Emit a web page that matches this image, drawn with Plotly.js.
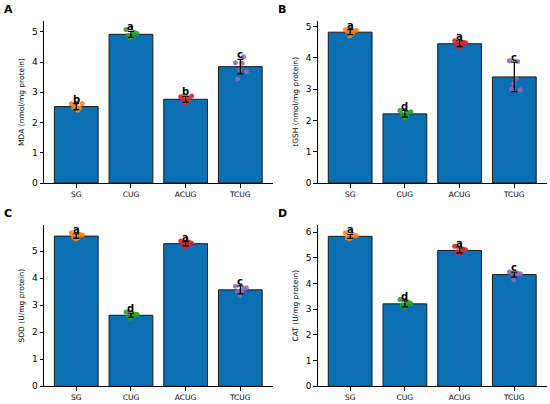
<!DOCTYPE html>
<html><head><meta charset="utf-8">
<script src="https://cdn.plot.ly/plotly-3.0.1.min.js"></script>
<style>html,body{margin:0;padding:0;background:#fff}#plot{width:550px;height:404px}</style>
</head><body><div id="plot"></div>
<script>
const categories = ["SG", "CUG", "ACUG", "TCUG"];
const pointColors = ["#ff7f0e", "#2ca02c", "#d62728", "#9467bd"];
const jitter = [-0.09, 0.06, 0.03, -0.01, 0.11, -0.05];

// Panel A: MDA
const mdaMeans = [2.53, 4.92, 2.77, 3.85];
const mdaErr = [0.1, 0.1, 0.1, 0.24];
const mdaPoints = [
  [2.62, 2.48, 2.41, 2.55, 2.63, 2.50],
  [5.08, 4.98, 4.85, 4.80, 4.95, 4.88],
  [2.85, 2.80, 2.70, 2.62, 2.88, 2.77],
  [3.98, 4.18, 3.96, 3.74, 3.68, 3.44]
];
const mdaLetters = ["b", "a", "b", "c"];

// Panel B: tGSH
const gshMeans = [4.82, 2.21, 4.45, 3.39];
const gshErr = [0.08, 0.1, 0.09, 0.47];
const gshPoints = [
  [4.90, 4.85, 4.75, 4.70, 4.88, 4.83],
  [2.32, 2.25, 2.12, 2.08, 2.28, 2.20],
  [4.55, 4.50, 4.38, 4.32, 4.48, 4.45],
  [3.91, 3.88, 3.32, 3.17, 2.98, 3.00]
];
const gshLetters = ["a", "d", "a", "c"];

// Panel C: SOD
const sodMeans = [5.56, 2.63, 5.28, 3.57];
const sodErr = [0.08, 0.08, 0.08, 0.15];
const sodPoints = [
  [5.68, 5.62, 5.50, 5.45, 5.60, 5.52],
  [2.75, 2.68, 2.58, 2.52, 2.66, 2.60],
  [5.38, 5.34, 5.22, 5.15, 5.30, 5.28],
  [3.70, 3.62, 3.55, 3.36, 3.65, 3.50]
];
const sodLetters = ["a", "d", "a", "c"];

// Panel D: CAT
const catMeans = [5.84, 3.21, 5.29, 4.35];
const catErr = [0.08, 0.12, 0.1, 0.1];
const catPoints = [
  [5.98, 5.90, 5.80, 5.75, 5.86, 5.78],
  [3.38, 3.28, 3.15, 3.05, 3.22, 3.18],
  [5.45, 5.35, 5.22, 5.18, 5.32, 5.24],
  [4.45, 4.40, 4.32, 4.15, 4.38, 4.40]
];
const catLetters = ["a", "d", "a", "c"];

const panels = [
  {label: "A", ytitle: "MDA (nmol/mg protein)", means: mdaMeans, err: mdaErr, pts: mdaPoints, letters: mdaLetters, yr: 5.36, dtick: 1, xd: [0.08, 0.4956], yd: [0.547, 0.948]},
  {label: "B", ytitle: "tGSH (nmol/mg protein)", means: gshMeans, err: gshErr, pts: gshPoints, letters: gshLetters, yr: 5.19, dtick: 1, xd: [0.578, 0.9938], yd: [0.547, 0.949]},
  {label: "C", ytitle: "SOD (U/mg protein)", means: sodMeans, err: sodErr, pts: sodPoints, letters: sodLetters, yr: 5.97, dtick: 1, xd: [0.08, 0.4956], yd: [0.0438, 0.443]},
  {label: "D", ytitle: "CAT (U/mg protein)", means: catMeans, err: catErr, pts: catPoints, letters: catLetters, yr: 6.28, dtick: 1, xd: [0.578, 0.9938], yd: [0.0438, 0.443]}
];

const FONT = "DejaVu Sans, sans-serif";
const traces = [];
const annotations = [];
const layout = {
  width: 550, height: 404,
  margin: {l: 0, r: 0, t: 0, b: 0},
  paper_bgcolor: "#fff", plot_bgcolor: "#fff",
  showlegend: false,
  font: {family: FONT, color: "#000"},
  annotations: annotations
};

const idx = categories.map((c, i) => i);
panels.forEach((p, k) => {
  const n = k + 1;
  const xa = n === 1 ? "x" : "x" + n;
  const ya = n === 1 ? "y" : "y" + n;
  const xkey = n === 1 ? "xaxis" : "xaxis" + n;
  const ykey = n === 1 ? "yaxis" : "yaxis" + n;
  traces.push({
    type: "bar", x: idx, y: p.means, width: 0.8, xaxis: xa, yaxis: ya,
    marker: {color: "#0a6fb3", line: {color: "#1a1a1a", width: 1}},
    hoverinfo: "skip"
  });
  p.pts.forEach((arr, g) => {
    traces.push({
      type: "scatter", mode: "markers", xaxis: xa, yaxis: ya,
      x: arr.map((v, j) => g + jitter[j]), y: arr,
      marker: {color: pointColors[g], size: 5, opacity: 0.9},
      hoverinfo: "skip"
    });
  });
  traces.push({
    type: "scatter", mode: "markers", xaxis: xa, yaxis: ya,
    x: idx, y: p.means,
    marker: {color: "rgba(0,0,0,0)", size: 1},
    error_y: {type: "data", array: p.err, visible: true, color: "#000", thickness: 1.3, width: 3},
    hoverinfo: "skip"
  });
  p.letters.forEach((t, g) => {
    annotations.push({
      xref: xa, yref: ya, x: g, y: p.means[g] + p.err[g],
      text: "<b>" + t + "</b>", showarrow: false, yanchor: "bottom", yshift: -3,
      font: {family: FONT, size: 10, color: "#000"}
    });
  });
  annotations.push({
    xref: "paper", yref: "paper",
    x: p.xd[0] - 0.065, y: p.yd[1] + 0.028,
    xanchor: "center", yanchor: "middle",
    text: "<b>" + p.label + "</b>", showarrow: false,
    font: {family: FONT, size: 11, color: "#000"}
  });
  layout[xkey] = {
    domain: p.xd, anchor: ya, range: [-0.59, 3.59],
    tickvals: idx, ticktext: categories,
    showline: true, linecolor: "#000", linewidth: 1,
    ticks: "outside", ticklen: 3.5, tickwidth: 1, tickcolor: "#000",
    showgrid: false, zeroline: false, fixedrange: true,
    tickfont: {family: FONT, size: 7.5, color: "#000"}
  };
  layout[ykey] = {
    domain: p.yd, anchor: xa, range: [0, p.yr], dtick: p.dtick, tick0: 0,
    showline: true, linecolor: "#000", linewidth: 1,
    ticks: "outside", ticklen: 3.5, tickwidth: 1, tickcolor: "#000",
    showgrid: false, zeroline: false, fixedrange: true,
    tickfont: {family: FONT, size: 9, color: "#000"},
    title: {text: p.ytitle, font: {family: FONT, size: 7.5, color: "#000"}, standoff: 6}
  };
});

Plotly.newPlot("plot", traces, layout, {displayModeBar: false, staticPlot: true});
</script>
</body></html>
